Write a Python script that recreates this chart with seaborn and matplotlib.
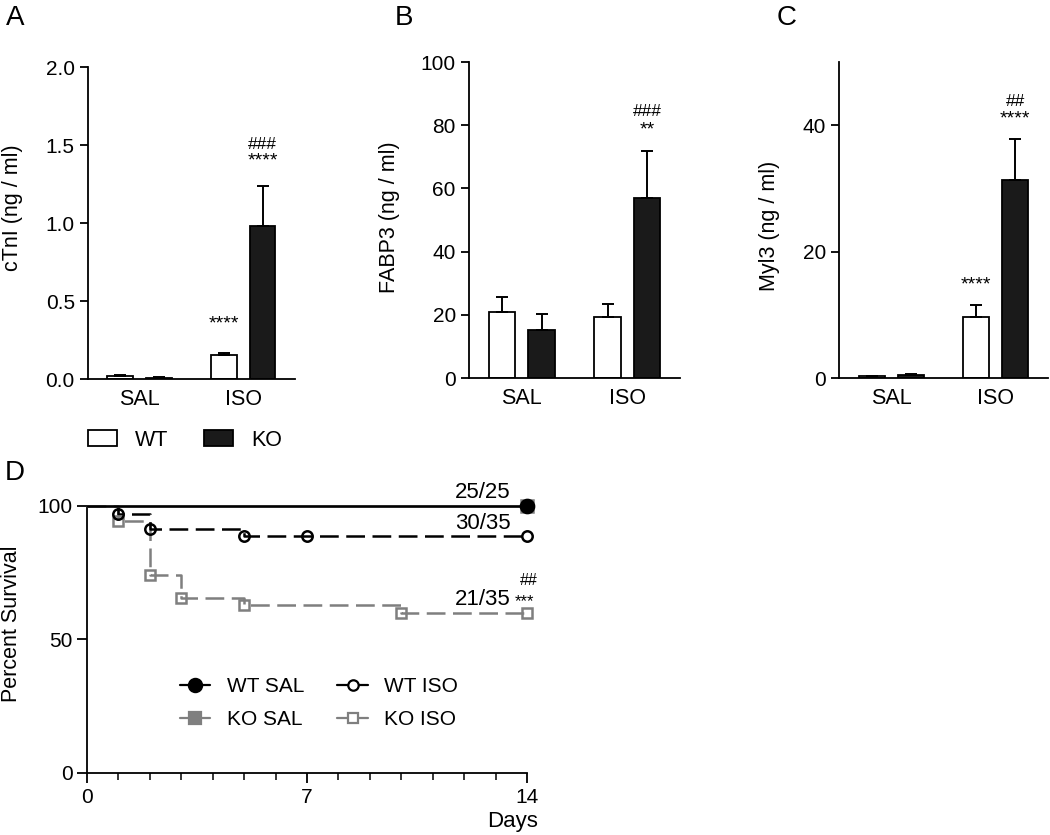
import matplotlib
matplotlib.use("Agg")
import matplotlib.pyplot as plt
from matplotlib.lines import Line2D
from matplotlib.patches import Patch
import numpy as np
import pandas as pd
import seaborn as sns


TREATMENTS = ["SAL", "ISO"]
GENOTYPES = ["WT", "KO"]

# serum markers: mean and SEM, order WT SAL, WT ISO, KO SAL, KO ISO
CTNI_MEAN = [0.02, 0.155, 0.01, 0.98]
CTNI_SEM = [0.005, 0.012, 0.003, 0.255]
FABP3_MEAN = [20.9, 19.2, 15.3, 57.0]
FABP3_SEM = [4.8, 4.2, 5.1, 14.8]
MYL3_MEAN = [0.3, 9.6, 0.5, 31.3]
MYL3_SEM = [0.05, 1.9, 0.1, 6.5]

# significance marks: (treatment, genotype, text, offset in points, fontsize)
CTNI_MARKS = [("ISO", "WT", "****", 18, 14), ("ISO", "KO", "****", 15, 14), ("ISO", "KO", "###", 27, 12.5)]
FABP3_MARKS = [("ISO", "KO", "**", 12, 14), ("ISO", "KO", "###", 25, 12.5)]
MYL3_MARKS = [("ISO", "WT", "****", 11.5, 14), ("ISO", "KO", "****", 11.5, 14), ("ISO", "KO", "##", 24, 12.5)]

# survival (Kaplan-Meier steps)
WT_SAL_DAYS = [0, 14]
WT_SAL_SURV = [100, 100]
KO_SAL_DAYS = [0, 14]
KO_SAL_SURV = [100, 100]
WT_ISO_DAYS = [0, 1, 2, 5, 7, 14]
WT_ISO_SURV = [100, 97.1, 91.4, 88.6, 88.6, 88.6]
KO_ISO_DAYS = [0, 1, 2, 3, 5, 10, 14]
KO_ISO_SURV = [100, 94.3, 74.3, 65.7, 62.9, 60.0, 60.0]
SURV_COUNTS = {"WT SAL": "25/25", "WT ISO": "30/35", "KO ISO": "21/35"}

FONT = ["Liberation Sans", "DejaVu Sans"]
KO_COLOR = "#1a1a1a"
GRAY = "#7f7f7f"


def bar_panel(ax, means, sems, ylabel, yticks, ylim, fmt, marks, label_xy):
    df = pd.DataFrame({
        "treatment": TREATMENTS * 2,
        "genotype": [g for g in GENOTYPES for _ in TREATMENTS],
        "value": means,
        "err": sems,
    })
    sns.barplot(
        data=df, x="treatment", y="value", hue="genotype",
        order=TREATMENTS, hue_order=GENOTYPES,
        palette={"WT": "white", "KO": KO_COLOR},
        edgecolor="black", linewidth=1.3, width=0.75, gap=0.333,
        errorbar=None, legend=False, ax=ax,
    )
    tops = {}
    for genotype, container in zip(GENOTYPES, ax.containers):
        for treatment, bar in zip(TREATMENTS, container):
            row = df[(df["treatment"] == treatment) & (df["genotype"] == genotype)].iloc[0]
            x = bar.get_x() + bar.get_width() / 2
            ax.errorbar(x, row["value"], yerr=[[0], [row["err"]]], fmt="none",
                        ecolor="black", elinewidth=1.4, capsize=4, capthick=1.4)
            tops[(treatment, genotype)] = (x, row["value"] + row["err"])
    for treatment, genotype, text, dy, fs in marks:
        x, y = tops[(treatment, genotype)]
        ax.annotate(text, xy=(x, y), xytext=(0, dy), textcoords="offset points",
                    ha="center", va="baseline", fontsize=fs, family=FONT)
    ax.set_xlim(-0.5, 1.5)
    ax.set_ylim(*ylim)
    ax.set_yticks(yticks)
    ax.set_yticklabels([fmt.format(t) for t in yticks])
    ax.set_xlabel("")
    ax.set_ylabel(ylabel, fontsize=15.5)
    ax.yaxis.set_label_coords(*label_xy)
    ax.tick_params(axis="x", length=0, pad=7, labelsize=15.5)
    ax.tick_params(axis="y", length=6, width=1.3, labelsize=15)
    sns.despine(ax=ax)
    ax.spines["bottom"].set_bounds(-0.5, 1.5)


sns.set_theme(style="ticks")
plt.rcParams["font.family"] = FONT
plt.rcParams.update({
    "text.color": "black",
    "axes.labelcolor": "black",
    "xtick.color": "black",
    "ytick.color": "black",
    "axes.edgecolor": "black",
    "axes.linewidth": 1.3,
})

fig = plt.figure(figsize=(10.5, 8.35), dpi=100)
ax_a = fig.add_axes([0.0838, 0.546, 0.197, 0.3737])
ax_b = fig.add_axes([0.4467, 0.5473, 0.201, 0.3784])
ax_c = fig.add_axes([0.799, 0.5473, 0.199, 0.3784])
ax_d = fig.add_axes([0.0829, 0.0743, 0.419, 0.3198])

bar_panel(ax_a, CTNI_MEAN, CTNI_SEM, "cTnI (ng / ml)", [0, 0.5, 1.0, 1.5, 2.0],
          (0, 2.0), "{:.1f}", CTNI_MARKS, (-0.314, 0.55))
bar_panel(ax_b, FABP3_MEAN, FABP3_SEM, "FABP3 (ng / ml)", [0, 20, 40, 60, 80, 100],
          (0, 100), "{:.0f}", FABP3_MARKS, (-0.327, 0.51))
bar_panel(ax_c, MYL3_MEAN, MYL3_SEM, "Myl3 (ng / ml)", [0, 20, 40],
          (0, 50), "{:.0f}", MYL3_MARKS, (-0.282, 0.48))

fig.legend(
    handles=[Patch(facecolor="white", edgecolor="black", linewidth=1.3),
             Patch(facecolor=KO_COLOR, edgecolor="black", linewidth=1.3)],
    labels=GENOTYPES, loc="center left", bbox_to_anchor=(88 / 1050, 1 - 440 / 835),
    ncol=2, frameon=False, borderpad=0, borderaxespad=0, fontsize=15.5,
    handlelength=1.35, handleheight=0.75, handletextpad=0.84, columnspacing=1.63,
)

# survival panel
groups = [
    ("WT SAL", WT_SAL_DAYS, WT_SAL_SURV, "black", "-", "o", "black", 9.5),
    ("KO SAL", KO_SAL_DAYS, KO_SAL_SURV, GRAY, "-", "s", GRAY, 8),
    ("WT ISO", WT_ISO_DAYS, WT_ISO_SURV, "black", (0, (7.5, 3)), "o", "white", 7.5),
    ("KO ISO", KO_ISO_DAYS, KO_ISO_SURV, GRAY, (0, (7.5, 3)), "s", "white", 7.5),
]
draw_order = [groups[3], groups[2], groups[1], groups[0]]
for name, days, surv, color, ls, marker, face, ms in draw_order:
    sns.lineplot(x=days, y=surv, drawstyle="steps-post", color=color,
                 linewidth=1.8, linestyle=ls, estimator=None, ax=ax_d,
                 clip_on=False, zorder=3)
    ax_d.plot(days[1:], surv[1:], linestyle="none", marker=marker, markersize=ms,
              markerfacecolor=face if face != "white" else "none",
              markeredgecolor=color, markeredgewidth=1.8,
              clip_on=False, zorder=4)

finals = {g[0]: (g[1][-1], g[2][-1]) for g in groups}
for name, count in SURV_COUNTS.items():
    ax_d.annotate(count, xy=finals[name], xytext=(-12, 5.5), textcoords="offset points",
                  ha="right", va="baseline", fontsize=16)
ax_d.annotate("***", xy=finals["KO ISO"], xytext=(-8.5, 4.5), textcoords="offset points",
              ha="left", va="baseline", fontsize=12)
ax_d.annotate("##", xy=finals["KO ISO"], xytext=(1.5, 20), textcoords="offset points",
              ha="center", va="baseline", fontsize=11.5)

ax_d.set_xlim(0, 14)
ax_d.set_ylim(0, 100)
ax_d.set_xticks([0, 7, 14])
ax_d.set_xticks(np.arange(0, 15), minor=True)
ax_d.set_yticks([0, 50, 100])
ax_d.tick_params(axis="both", which="major", length=7, width=1.3, labelsize=15)
ax_d.tick_params(axis="x", which="minor", length=5, width=1.1)
ax_d.set_ylabel("Percent Survival", fontsize=15.5)
ax_d.yaxis.set_label_coords(-0.148, 0.56)
ax_d.set_xlabel("Days", fontsize=16, ha="right")
ax_d.xaxis.set_label_coords(1.025, -0.142)
sns.despine(ax=ax_d)

legend_handles = [
    Line2D([], [], color=g[3], marker=g[5], markerfacecolor=g[6], markeredgecolor=g[3],
           markersize=g[7], markeredgewidth=1.6, linewidth=1.6)
    for g in groups
]
ax_d.legend(legend_handles, [g[0] for g in groups], loc="upper left",
            bbox_to_anchor=(0.211, 0.36), ncol=2, frameon=False, borderpad=0,
            borderaxespad=0, fontsize=15, handlelength=1.45, handletextpad=0.8,
            columnspacing=1.6, labelspacing=0.7)

for letter, x, y in [("A", 6, 25), ("B", 395, 25), ("C", 777, 25), ("D", 5, 480)]:
    fig.text(x / 1050, 1 - y / 835, letter, fontsize=20, va="baseline", ha="left")

fig.savefig("out.png", dpi=100, facecolor="white")
